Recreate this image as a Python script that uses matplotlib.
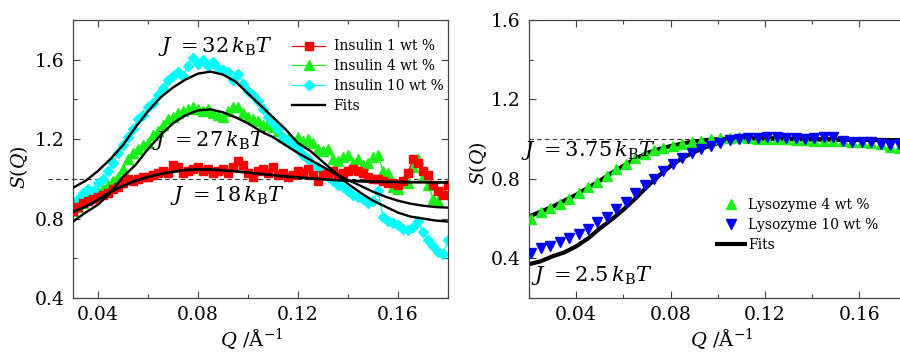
import numpy as np
import matplotlib
matplotlib.use("Agg")
import matplotlib.pyplot as plt
from matplotlib.ticker import MultipleLocator, FuncFormatter

plt.rcParams['font.family'] = ['DejaVu Serif']
plt.rcParams['mathtext.fontset'] = 'dejavuserif'

# ---------------- Insulin (left panel) ----------------
q_ins = [0.030, 0.032, 0.034, 0.036, 0.038, 0.040, 0.042, 0.044, 0.046, 0.048,
         0.050, 0.052, 0.054, 0.056, 0.058, 0.060, 0.062, 0.064, 0.066, 0.068,
         0.070, 0.072, 0.074, 0.076, 0.078, 0.080, 0.082, 0.084, 0.086, 0.088,
         0.090, 0.092, 0.094, 0.096, 0.098, 0.100, 0.102, 0.104, 0.106, 0.108,
         0.110, 0.112, 0.114, 0.116, 0.118, 0.120, 0.122, 0.124, 0.126, 0.128,
         0.130, 0.132, 0.134, 0.136, 0.138, 0.140, 0.142, 0.144, 0.146, 0.148,
         0.150, 0.152, 0.154, 0.156, 0.158, 0.160, 0.162, 0.164, 0.166, 0.168,
         0.170, 0.172, 0.174, 0.176, 0.178, 0.180]

s_ins1 = [0.84, 0.86, 0.88, 0.89, 0.90, 0.91, 0.92, 0.93, 0.95, 0.96,
          0.98, 1.00, 0.99, 1.00, 1.01, 1.01, 1.02, 1.03, 1.04, 1.03,
          1.07, 1.06, 1.03, 1.04, 1.05, 1.06, 1.04, 1.05, 1.03, 1.04,
          1.05, 1.03, 1.06, 1.09, 1.07, 1.03, 1.01, 1.04, 1.05, 1.03,
          1.06, 1.02, 1.03, 1.01, 1.02, 1.04, 1.03, 1.05, 1.02, 0.99,
          1.02, 1.03, 1.04, 1.02, 1.03, 1.04, 1.05, 1.04, 1.03, 1.01,
          1.00, 1.00, 0.99, 0.98, 0.98, 0.97, 0.99, 1.03, 1.10, 1.08,
          1.04, 1.02, 0.97, 0.94, 0.92, 0.97]

s_ins4 = [0.84, 0.86, 0.88, 0.90, 0.92, 0.94, 0.95, 0.97, 0.99, 1.01,
          1.05, 1.10, 1.13, 1.15, 1.17, 1.18, 1.22, 1.24, 1.27, 1.30,
          1.31, 1.33, 1.34, 1.35, 1.36, 1.35, 1.34, 1.35, 1.33, 1.32,
          1.31, 1.34, 1.36, 1.36, 1.33, 1.31, 1.30, 1.29, 1.27, 1.28,
          1.26, 1.24, 1.21, 1.20, 1.18, 1.21, 1.19, 1.20, 1.18, 1.15,
          1.14, 1.15, 1.10, 1.09, 1.11, 1.12, 1.08, 1.10, 1.07, 1.08,
          1.11, 1.12, 1.04, 1.03, 0.96, 0.95, 0.99, 0.98, 1.06, 1.10,
          1.01, 0.97, 0.90, 0.89, 0.94, 0.98]

s_ins10 = [0.88, 0.90, 0.93, 0.95, 0.94, 0.98, 1.00, 1.04, 1.08, 1.13,
           1.17, 1.21, 1.25, 1.30, 1.32, 1.36, 1.38, 1.42, 1.46, 1.50,
           1.52, 1.54, 1.52, 1.57, 1.61, 1.58, 1.60, 1.57, 1.59, 1.56,
           1.55, 1.54, 1.50, 1.53, 1.48, 1.44, 1.42, 1.39, 1.35, 1.31,
           1.28, 1.25, 1.21, 1.19, 1.17, 1.15, 1.12, 1.10, 1.07, 1.06,
           1.04, 1.01, 0.99, 0.97, 0.96, 0.94, 0.92, 0.91, 0.90, 0.88,
           0.89, 0.94, 0.81, 0.79, 0.78, 0.77, 0.75, 0.74, 0.76, 0.79,
           0.73, 0.69, 0.66, 0.63, 0.62, 0.69]

q_fit_ins = [0.030, 0.035, 0.040, 0.045, 0.050, 0.055, 0.060, 0.065, 0.070, 0.075,
             0.080, 0.085, 0.090, 0.095, 0.100, 0.105, 0.110, 0.115, 0.120, 0.125,
             0.130, 0.135, 0.140, 0.145, 0.150, 0.155, 0.160, 0.165, 0.170, 0.175,
             0.180]
fit_j32 = [0.955, 0.99, 1.04, 1.10, 1.17, 1.26, 1.34, 1.41, 1.46, 1.50,
           1.53, 1.54, 1.525, 1.49, 1.43, 1.37, 1.31, 1.25, 1.18, 1.14,
           1.085, 1.03, 0.975, 0.93, 0.89, 0.86, 0.83, 0.81, 0.80, 0.79,
           0.785]
fit_j27 = [0.785, 0.83, 0.87, 0.93, 1.01, 1.07, 1.15, 1.22, 1.28, 1.32,
           1.345, 1.35, 1.335, 1.31, 1.28, 1.24, 1.21, 1.17, 1.13, 1.095,
           1.06, 1.025, 0.995, 0.965, 0.935, 0.91, 0.89, 0.875, 0.865, 0.858,
           0.855]
fit_j18 = [0.835, 0.86, 0.895, 0.935, 0.965, 0.99, 1.01, 1.025, 1.035, 1.045,
           1.048, 1.047, 1.043, 1.038, 1.032, 1.025, 1.018, 1.012, 1.007, 1.002,
           0.998, 0.994, 0.99, 0.988, 0.986, 0.985, 0.984, 0.983, 0.983, 0.982,
           0.982]

# ---------------- Lysozyme (right panel) ----------------
q_lys = [0.021, 0.025, 0.029, 0.033, 0.037, 0.041, 0.045, 0.049, 0.053, 0.057,
         0.061, 0.065, 0.069, 0.073, 0.077, 0.081, 0.085, 0.089, 0.093, 0.097,
         0.101, 0.105, 0.109, 0.113, 0.117, 0.121, 0.125, 0.129, 0.133, 0.137,
         0.141, 0.145, 0.149, 0.153, 0.157, 0.161, 0.165, 0.169, 0.173, 0.177]
s_lys4 = [0.60, 0.635, 0.655, 0.675, 0.70, 0.73, 0.76, 0.785, 0.815, 0.85,
          0.875, 0.905, 0.925, 0.945, 0.955, 0.965, 0.975, 0.985, 0.99, 1.00,
          1.005, 1.005, 1.01, 1.005, 1.00, 1.00, 1.00, 1.00, 0.995, 0.995,
          0.99, 0.99, 0.99, 0.99, 0.985, 0.985, 0.98, 0.975, 0.96, 0.955]
s_lys10 = [0.425, 0.45, 0.46, 0.48, 0.50, 0.52, 0.55, 0.585, 0.61, 0.65,
           0.685, 0.73, 0.77, 0.80, 0.84, 0.875, 0.905, 0.93, 0.95, 0.965,
           0.98, 0.995, 1.00, 1.005, 1.005, 1.01, 1.01, 1.005, 1.005, 1.00,
           1.005, 1.01, 1.01, 0.99, 0.985, 0.985, 0.985, 0.975, 0.97, 0.975]

q_fit_lys = [0.020, 0.025, 0.030, 0.035, 0.040, 0.045, 0.050, 0.055, 0.060, 0.065,
             0.070, 0.075, 0.080, 0.085, 0.090, 0.095, 0.100, 0.105, 0.110, 0.115,
             0.120, 0.125, 0.130, 0.135, 0.140, 0.145, 0.150, 0.155, 0.160, 0.165,
             0.170, 0.175, 0.180]
fit_j375 = [0.61, 0.635, 0.66, 0.69, 0.72, 0.755, 0.79, 0.83, 0.865, 0.90,
            0.93, 0.95, 0.965, 0.978, 0.988, 0.995, 1.00, 1.003, 1.004, 1.003,
            1.002, 1.001, 1.000, 0.999, 0.998, 0.998, 0.997, 0.997, 0.996, 0.996,
            0.995, 0.995, 0.995]
fit_j25 = [0.37, 0.385, 0.41, 0.43, 0.46, 0.50, 0.55, 0.595, 0.645, 0.70,
           0.76, 0.815, 0.865, 0.905, 0.935, 0.96, 0.98, 0.993, 1.00, 1.004,
           1.005, 1.004, 1.003, 1.002, 1.001, 1.000, 0.999, 0.998, 0.997, 0.996,
           0.996, 0.995, 0.995]

RED = '#ff0000'
GREEN = '#1bf01b'
CYAN = '#00ffff'
BLUE = '#0000ff'
SPINE = '#444444'

fig = plt.figure(figsize=(9.0, 3.53), dpi=100)
ax1 = fig.add_axes([73 / 900, 1 - 298 / 353, 375 / 900, 278 / 353])
ax2 = fig.add_axes([529 / 900, 1 - 298 / 353, 377.5 / 900, 278 / 353])


def style_axes(ax, xlim, ylim):
    ax.set_xlim(*xlim)
    ax.set_ylim(*ylim)
    ax.xaxis.set_major_locator(MultipleLocator(0.04))
    ax.xaxis.set_minor_locator(MultipleLocator(0.02))
    ax.yaxis.set_major_locator(MultipleLocator(0.4))
    ax.yaxis.set_minor_locator(MultipleLocator(0.2))
    ax.tick_params(which='both', direction='in', top=True, right=True,
                   color=SPINE, width=0.8, labelsize=13.5, pad=6)
    ax.tick_params(which='major', length=5)
    ax.tick_params(which='minor', length=3)
    for sp in ax.spines.values():
        sp.set_color(SPINE)
        sp.set_linewidth(0.9)
    ax.xaxis.set_major_formatter(FuncFormatter(lambda v, p: f'{v:.2f}'))
    ax.yaxis.set_major_formatter(FuncFormatter(lambda v, p: f'{v:.1f}'))


# ---- left panel ----
style_axes(ax1, (0.03, 0.18), (0.4, 1.8))
ax1.plot([0.02, 0.18], [1.0, 1.0], color='#333333', lw=0.8, ls=(0, (4, 3)),
         clip_on=False, zorder=1)
ax1.plot(q_ins, s_ins1, color=RED, lw=0.9, marker='s', ms=5.5, mec=RED,
         label='Insulin 1 wt %', zorder=3)
ax1.plot(q_ins, s_ins4, color=GREEN, lw=0.9, marker='^', ms=6.5, mec=GREEN,
         label='Insulin 4 wt %', zorder=2)
ax1.plot(q_ins, s_ins10, color=CYAN, lw=0.9, marker='D', ms=5.5, mec=CYAN,
         label='Insulin 10 wt %', zorder=2)
ax1.plot(q_fit_ins, fit_j32, color='black', lw=1.7, zorder=4, label='Fits')
ax1.plot(q_fit_ins, fit_j27, color='black', lw=1.7, zorder=4)
ax1.plot(q_fit_ins, fit_j18, color='black', lw=2.0, zorder=4)

ax1.text(0.0868, 1.668, r'$J\ =32\,k_{\mathrm{B}}T$', fontsize=15,
         ha='center', va='center')
ax1.text(0.0844, 1.193, r'$J\ =27\,k_{\mathrm{B}}T$', fontsize=15,
         ha='center', va='center', zorder=5)
ax1.text(0.0918, 0.916, r'$J\ =18\,k_{\mathrm{B}}T$', fontsize=15,
         ha='center', va='center', zorder=5)

ax1.set_ylabel(r'$S(Q)$', fontsize=13.5)
ax1.yaxis.set_label_coords(-0.116, 0.471)
ax1.set_xlabel(r'$Q$ /Å$^{-1}$', fontsize=14)
ax1.xaxis.set_label_coords(0.477, -0.103)

ax1.legend(loc='upper left', bbox_to_anchor=(0.584, 0.93), frameon=False,
           fontsize=10, handlelength=2.4, handletextpad=0.6, labelspacing=0.42,
           borderpad=0, borderaxespad=0, numpoints=1)

# ---- right panel ----
style_axes(ax2, (0.02, 0.18), (0.2, 1.6))
ax2.plot([0.02, 0.18], [1.0, 1.0], color='#333333', lw=0.8, ls=(0, (4, 3)),
         zorder=1)
ax2.plot(q_fit_lys, fit_j375, color='black', lw=3.0, zorder=2, label='Fits')
ax2.plot(q_fit_lys, fit_j25, color='black', lw=3.0, zorder=2)
ax2.plot(q_lys, s_lys4, ls='none', marker='^', ms=6.5, color=GREEN, mec=GREEN,
         label='Lysozyme 4 wt %', zorder=3)
ax2.plot(q_lys, s_lys10, ls='none', marker='v', ms=6.5, color=BLUE, mec=BLUE,
         label='Lysozyme 10 wt %', zorder=3)

ax2.text(0.0453, 0.945, r'$J\ =3.75\,k_{\mathrm{B}}T$', fontsize=15,
         ha='center', va='center', zorder=5)
ax2.text(0.0465, 0.311, r'$J\ =2.5\,k_{\mathrm{B}}T$', fontsize=15,
         ha='center', va='center', zorder=5)

ax2.set_ylabel(r'$S(Q)$', fontsize=13.5)
ax2.yaxis.set_label_coords(-0.105, 0.486)
ax2.set_xlabel(r'$Q$ /Å$^{-1}$', fontsize=14)
ax2.xaxis.set_label_coords(0.511, -0.103)

handles, labels = ax2.get_legend_handles_labels()
order = [1, 2, 0]
ax2.legend([handles[i] for i in order], [labels[i] for i in order],
           loc='upper left', bbox_to_anchor=(0.498, 0.36), frameon=False,
           fontsize=10, handlelength=2.0, handletextpad=0.25, labelspacing=0.42,
           borderpad=0, borderaxespad=0, numpoints=1)

fig.savefig('out.png', dpi=100)
